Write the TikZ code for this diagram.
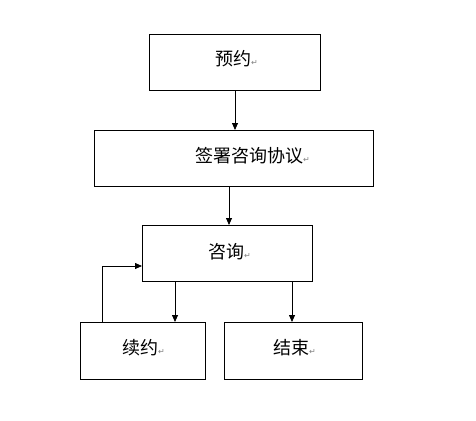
\documentclass[tikz,border=0pt]{standalone}
\usepackage{fontspec}
\newfontfamily\cjk{Noto Sans CJK SC}
\newfontfamily\symf{DejaVu Sans}
\usetikzlibrary{arrows.meta}
\newcommand{\retmark}{{\symf\fontsize{8}{8}\selectfont\color{gray}↵}}
\begin{document}
\begin{tikzpicture}[x=1pt,y=-1pt,
  box/.style={draw=black,line width=1pt,inner sep=0pt,anchor=north west},
  lbl/.style={font=\cjk\fontsize{18}{18}\selectfont,inner sep=0pt,anchor=west},
  arr/.style={-{Triangle[length=7pt,width=6pt]},line width=0.8pt}]
\useasboundingbox (0,0) rectangle (476,420);
\node[box,minimum width=171pt,minimum height=56pt] (b1) at (149,34) {};
\node[box,minimum width=279pt,minimum height=56pt] (b2) at (94,130) {};
\node[box,minimum width=170pt,minimum height=56pt] (b3) at (142,225) {};
\node[box,minimum width=125pt,minimum height=57pt] (b4) at (80,322) {};
\node[box,minimum width=138pt,minimum height=57pt] (b5) at (224,322) {};
\node[lbl] (t1) at (215,59) {预约\retmark};
\node[lbl] (t2) at (195,156) {签署咨询协议\retmark};
\node[lbl] (t3) at (208,252) {咨询\retmark};
\node[lbl] (t4) at (122,348) {续约\retmark};
\node[lbl] (t5) at (273,348) {结束\retmark};
\draw[arr] (b1.south -| 235,0) -- (b2.north -| 235,0);
\draw[arr] (b2.south -| 229,0) -- (b3.north -| 229,0);
\draw[arr] (b3.south -| 175,0) -- (b4.north -| 175,0);
\draw[arr] (b3.south -| 292,0) -- (b5.north -| 292,0);
\coordinate (c1) at (102,266);
\draw[arr] (b4.north -| c1) -- (c1) -- (b3.west |- c1);
\end{tikzpicture}
\end{document}
